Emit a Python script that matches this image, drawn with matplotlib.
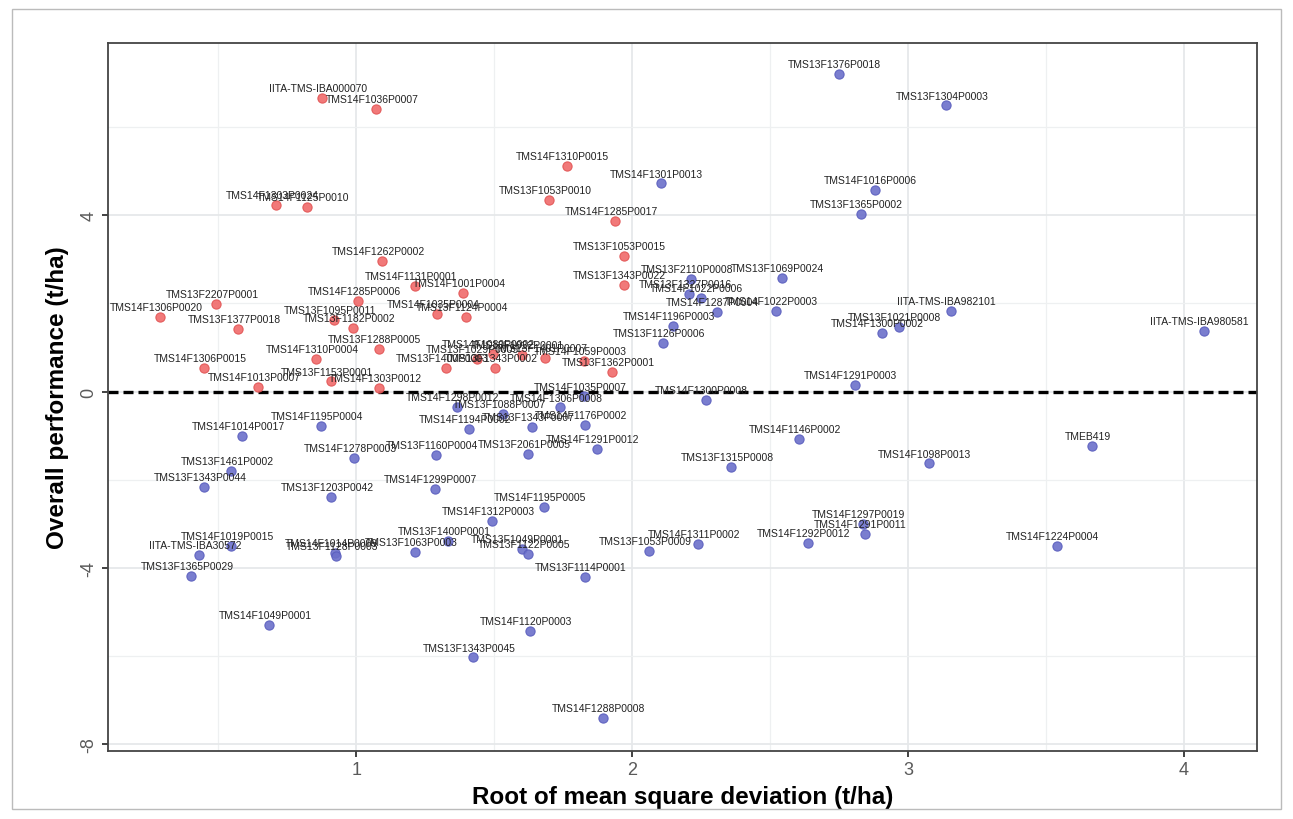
import numpy as np
import matplotlib.pyplot as plt
from matplotlib.patches import Rectangle

plt.rcParams["font.family"] = ["Liberation Sans", "DejaVu Sans"]
plt.rcParams["axes.unicode_minus"] = False

## Clone names, RMSD (t/ha) and overall performance (t/ha)
names = [
    "IITA-TMS-IBA000070", "TMS14F1036P0007", "TMS14F1303P0024", "TMS14F1125P0010",
    "TMS14F1310P0015", "TMS13F1053P0010", "TMS14F1285P0017", "TMS13F1053P0015",
    "TMS13F1343P0022", "TMS14F1262P0002", "TMS14F1131P0001", "TMS14F1001P0004",
    "TMS14F1285P0006", "TMS13F2207P0001", "TMS14F1306P0020", "TMS14F1035P0004",
    "TMS13F1124P0004", "TMS13F1377P0018", "TMS13F1095P0011", "TMS13F1182P0002",
    "TMS13F1288P0005", "TMS14F1310P0004", "TMS14F1306P0015", "TMS13F1153P0001",
    "TMS14F1013P0007", "TMS14F1303P0012", "TMS13F1400P0003", "TMS13F1029P0005",
    "TMS14F1080P0002", "TMS13F1343P0002", "TMS13F1022P0001", "TMS13F1401P0007",
    "TMS14F1059P0003", "TMS13F1362P0001",
    "TMS13F1376P0018", "TMS13F1304P0003", "TMS14F1301P0013", "TMS14F1016P0006",
    "TMS13F1365P0002", "TMS13F1069P0024", "TMS13F2110P0008", "TMS13F1327P0016",
    "TMS14F1022P0006", "TMS14F1287P0004", "TMS14F1022P0003", "TMS14F1196P0003",
    "TMS13F1126P0006", "IITA-TMS-IBA982101", "TMS13F1021P0008", "TMS14F1300P0002",
    "IITA-TMS-IBA980581", "TMS14F1291P0003", "TMS14F1035P0007", "TMS14F1306P0008",
    "TMS14F1300P0008", "TMS14F1298P0012", "TMS13F1088P0007", "TMS14F1194P0002",
    "TMS13F1343P0007", "TMS14F1176P0002", "TMS14F1291P0012", "TMS13F2061P0005",
    "TMS14F1146P0002", "TMS13F1315P0008", "TMS14F1195P0004", "TMS14F1014P0017",
    "TMS14F1278P0003", "TMS13F1160P0004", "TMS13F1461P0002", "TMS13F1343P0044",
    "TMS13F1203P0042", "TMS14F1299P0007", "TMS14F1195P0005", "TMS14F1312P0003",
    "TMS13F1400P0001", "TMS13F1049P0001", "TMS13F1122P0005", "TMS13F1053P0009",
    "TMS14F1311P0002", "TMS14F1292P0012", "TMS14F1297P0019", "TMS14F1291P0011",
    "TMS13F1114P0001", "TMS13F1063P0003", "TMS14F1014P0009", "TMS13F1128P0003",
    "TMS14F1019P0015", "IITA-TMS-IBA30572", "TMS13F1365P0029", "TMS14F1049P0001",
    "TMS14F1120P0003", "TMS13F1343P0045", "TMS14F1288P0008", "TMS14F1098P0013",
    "TMEB419", "TMS14F1224P0004",
]

rmsd = [
    0.877, 1.072, 0.710, 0.822, 1.764, 1.700, 1.940, 1.970, 1.970, 1.094,
    1.214, 1.388, 1.007, 0.493, 0.290, 1.293, 1.397, 0.572, 0.920, 0.989,
    1.083, 0.855, 0.449, 0.909, 0.645, 1.083, 1.326, 1.438, 1.496, 1.504,
    1.601, 1.685, 1.826, 1.928,
    2.750, 3.140, 2.105, 2.880, 2.830, 2.543, 2.214, 2.207, 2.250, 2.308,
    2.522, 2.149, 2.112, 3.156, 2.967, 2.905, 4.072, 2.808, 1.826, 1.739,
    2.268, 1.366, 1.533, 1.410, 1.638, 1.830, 1.873, 1.623, 2.605, 2.359,
    0.873, 0.587, 0.993, 1.290, 0.547, 0.449, 0.909, 1.286, 1.681, 1.493,
    1.333, 1.600, 1.623, 2.062, 2.239, 2.638, 2.837, 2.844, 1.830, 1.214,
    0.924, 0.928, 0.547, 0.431, 0.402, 0.685, 1.630, 1.424, 1.895, 3.076,
    3.667, 3.540,
]

performance = [
    6.67, 6.42, 4.23, 4.18, 5.11, 4.34, 3.86, 3.07, 2.42, 2.96,
    2.40, 2.24, 2.06, 1.99, 1.69, 1.77, 1.69, 1.42, 1.63, 1.45,
    0.97, 0.75, 0.54, 0.23, 0.11, 0.09, 0.54, 0.75, 0.86, 0.54,
    0.84, 0.77, 0.70, 0.45,
    7.21, 6.49, 4.72, 4.57, 4.02, 2.58, 2.55, 2.21, 2.12, 1.81,
    1.83, 1.49, 1.11, 1.83, 1.47, 1.33, 1.38, 0.16, -0.11, -0.36,
    -0.18, -0.34, -0.50, -0.84, -0.80, -0.76, -1.31, -1.41, -1.08, -1.70,
    -0.79, -1.01, -1.51, -1.44, -1.80, -2.17, -2.40, -2.21, -2.62, -2.94,
    -3.39, -3.57, -3.68, -3.62, -3.46, -3.44, -3.00, -3.23, -4.20, -3.64,
    -3.66, -3.73, -3.50, -3.71, -4.18, -5.29, -5.43, -6.03, -7.41, -1.63,
    -1.24, -3.50,
]

# red = stable above average, blue = the rest
groups = ["red"] * 34 + ["blue"] * 62

x_ticks = [1, 2, 3, 4]
y_ticks = [4, 0, -4, -8]

colors = {"red": "#F06A6A", "blue": "#6C70CA"}
edges = {"red": "#E25555", "blue": "#5A5EBE"}

## Figure and axes
fig = plt.figure(figsize=(12.93, 8.20), dpi=100)
ax = fig.add_axes([0.0835, 0.083, 0.8885, 0.863])

## Grid (ggplot-like)
ax.set_xlim(0.10, 4.265)
ax.set_ylim(-8.15, 7.9)
ax.set_xticks(x_ticks)
ax.set_yticks(y_ticks)
ax.set_xticks(np.arange(0.5, 4.5, 1), minor=True)
ax.set_yticks([-6, -2, 2, 6], minor=True)
ax.set_axisbelow(True)
ax.grid(which="major", color="#E6E8EA", lw=1.3)
ax.grid(which="minor", color="#EEF0F1", lw=0.9)
ax.tick_params(which="minor", length=0)
ax.tick_params(which="major", length=4, width=1.3, color="#333333",
               labelsize=13, labelcolor="#5A5A5A")
for lab in ax.get_yticklabels():
    lab.set_rotation(90)
    lab.set_va("center")
for sp in ax.spines.values():
    sp.set_color("#444444")
    sp.set_linewidth(1.3)

## Reference line at zero
ax.plot([0.10, 4.265], [0, 0], color="black", lw=2.4, dashes=[3.0, 1.5],
        solid_capstyle="butt", zorder=2)

## Points and labels
for g in ("red", "blue"):
    xs = [x for x, gg in zip(rmsd, groups) if gg == g]
    ys = [y for y, gg in zip(performance, groups) if gg == g]
    ax.scatter(xs, ys, s=44, color=colors[g], edgecolor=edges[g],
               linewidth=0.8, alpha=0.9, zorder=3)

for name, x, y in zip(names, rmsd, performance):
    ax.annotate(name, (x, y), xytext=(-3, 5), textcoords="offset points",
                ha="center", va="baseline", fontsize=7.5, color="#222222",
                zorder=4)

## Labels
ax.set_xlabel("Root of mean square deviation (t/ha)", fontsize=17.5,
              fontweight="bold", labelpad=5)
ax.set_ylabel("Overall performance (t/ha)", fontsize=17.5,
              fontweight="bold", labelpad=8)

## Light frame round the figure
fig.patches.append(Rectangle((0.009, 0.012), 0.982, 0.976, transform=fig.transFigure,
                             fill=False, edgecolor="#BBBBBB", lw=1))

fig.savefig("out.png", dpi=100)
